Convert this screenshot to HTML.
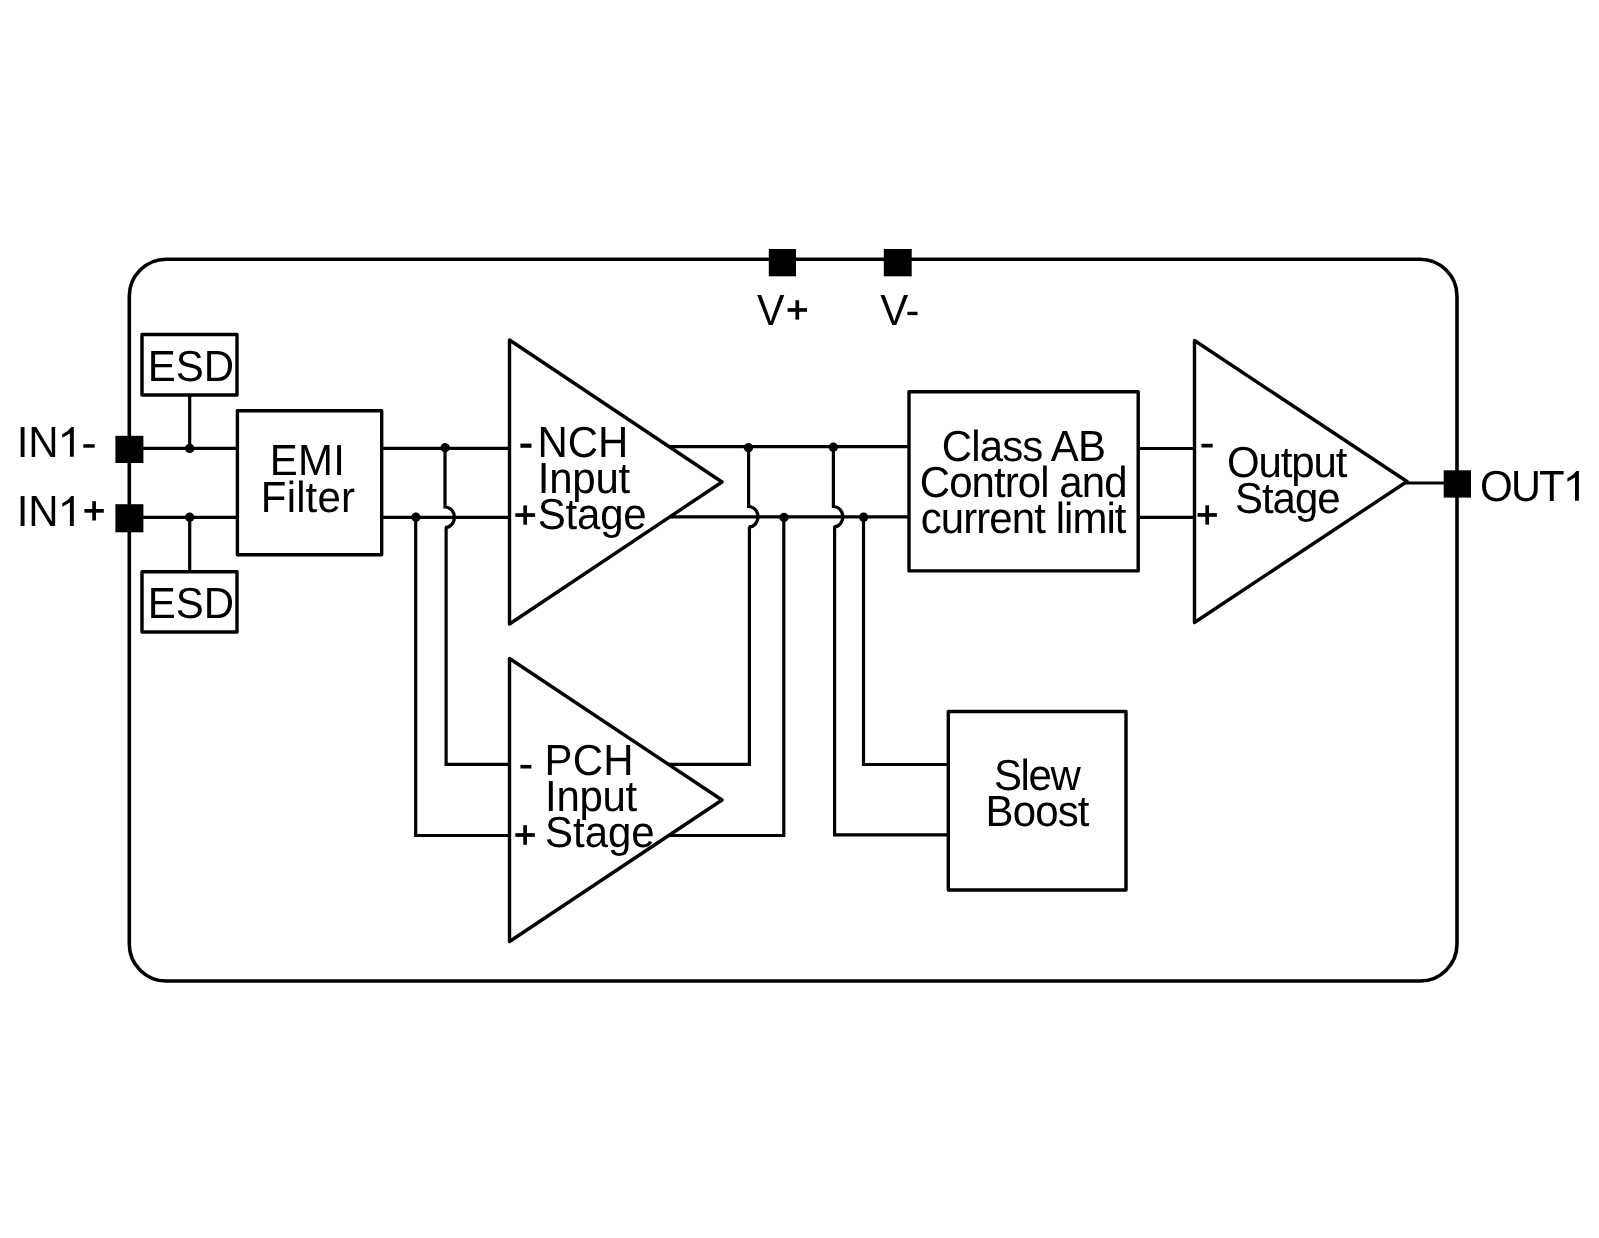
<!DOCTYPE html>
<html><head><meta charset="utf-8"><title>Op-amp block diagram</title>
<style>
html,body{margin:0;padding:0;background:#fff;width:1599px;height:1238px;overflow:hidden}
svg{display:block;will-change:transform}
text{font-family:"Liberation Sans",sans-serif;fill:#000;white-space:pre;text-rendering:geometricPrecision}
</style></head><body>
<svg width="1599" height="1238" viewBox="0 0 1599 1238">
<rect x="0" y="0" width="1599" height="1238" fill="#fff"/>
<rect x="129.3" y="259.2" width="1327.7" height="721.8" rx="37" ry="37" fill="none" stroke="#000" stroke-width="3.6"/>
<rect x="115.4" y="435.8" width="28.00" height="27.20" fill="#000"/>
<rect x="115.4" y="504.2" width="28.00" height="28.10" fill="#000"/>
<rect x="768.8" y="249" width="27.20" height="27.30" fill="#000"/>
<rect x="883.8" y="249" width="27.90" height="27.30" fill="#000"/>
<rect x="1443.7" y="470.3" width="27.30" height="27.30" fill="#000"/>
<rect x="142" y="334.5" width="95.00" height="60.50" fill="none" stroke="#000" stroke-width="3.4" stroke-linejoin="round"/>
<rect x="142" y="571.7" width="95.00" height="60.30" fill="none" stroke="#000" stroke-width="3.4" stroke-linejoin="round"/>
<rect x="237.4" y="410.7" width="144.30" height="144.00" fill="none" stroke="#000" stroke-width="3.4" stroke-linejoin="round"/>
<rect x="909" y="391.7" width="229.20" height="179.20" fill="none" stroke="#000" stroke-width="3.4" stroke-linejoin="round"/>
<rect x="948.3" y="711.5" width="177.70" height="178.50" fill="none" stroke="#000" stroke-width="3.4" stroke-linejoin="round"/>
<path d="M509.5 340 L722 482.0 L509.5 624 Z" fill="none" stroke="#000" stroke-width="3.4" stroke-linejoin="round"/>
<path d="M509.5 658.5 L722 800.0 L509.5 941.5 Z" fill="none" stroke="#000" stroke-width="3.4" stroke-linejoin="round"/>
<path d="M1194.5 340.5 L1407 481.5 L1194.5 622.5 Z" fill="none" stroke="#000" stroke-width="3.4" stroke-linejoin="round"/>
<path d="M129.4 448.4 H237.4 M381.7 448.4 H509.5" fill="none" stroke="#000" stroke-width="3.2" stroke-linejoin="miter"/>
<path d="M129.4 517.3 H237.4 M381.7 517.3 H509.5" fill="none" stroke="#000" stroke-width="3.2" stroke-linejoin="miter"/>
<path d="M189.7 395 V448.4 M189.7 517.3 V571.7" fill="none" stroke="#000" stroke-width="3.2" stroke-linejoin="miter"/>
<path d="M445 448.4 V507.00 A9.4 10.3 0 0 1 445 527.60 M446.1 527.30 V764.4 H509.5" fill="none" stroke="#000" stroke-width="3.2" stroke-linejoin="miter"/>
<path d="M415.7 517.3 V835.5 H509.5" fill="none" stroke="#000" stroke-width="3.2" stroke-linejoin="miter"/>
<path d="M669.2 446.7 H909 M669.9 516.8 H909" fill="none" stroke="#000" stroke-width="3.2" stroke-linejoin="miter"/>
<path d="M748.6 446.7 V506.50 A9.4 10.3 0 0 1 748.6 527.10 M749.4 526.80 V764.4 H668.5" fill="none" stroke="#000" stroke-width="3.2" stroke-linejoin="miter"/>
<path d="M668.7 835.5 H783.8 V516.8" fill="none" stroke="#000" stroke-width="3.2" stroke-linejoin="miter"/>
<path d="M833.4 446.7 V506.50 A9.4 10.3 0 0 1 833.4 527.10 M834.6 526.80 V834.9 H948.3" fill="none" stroke="#000" stroke-width="3.2" stroke-linejoin="miter"/>
<path d="M863.5 516.8 V764.5 H948.3" fill="none" stroke="#000" stroke-width="3.2" stroke-linejoin="miter"/>
<path d="M1138.2 448.5 H1195 M1138.2 517.3 H1195" fill="none" stroke="#000" stroke-width="3.2" stroke-linejoin="miter"/>
<path d="M1406 483 H1457" fill="none" stroke="#000" stroke-width="3.2" stroke-linejoin="miter"/>
<circle cx="189.7" cy="448.4" r="4.7" fill="#000"/>
<circle cx="189.7" cy="517.3" r="4.7" fill="#000"/>
<circle cx="445.1" cy="447.8" r="4.7" fill="#000"/>
<circle cx="415.9" cy="517.3" r="4.7" fill="#000"/>
<circle cx="748.5" cy="447.7" r="4.7" fill="#000"/>
<circle cx="784" cy="517.5" r="4.7" fill="#000"/>
<circle cx="833.3" cy="447.2" r="4.7" fill="#000"/>
<circle cx="863.6" cy="517.3" r="4.7" fill="#000"/>
<text transform="translate(16.82,457.20) scale(0.9650,1)" font-size="43.5" letter-spacing="-0.240">IN</text>
<path d="M73.8 427 V456.8 H69.90 V433.60 L62.30 437.80 V434.30 Q67.80 432.00 71.30 427 Z" fill="#000"/>
<rect x="83.30" y="444.20" width="11.40" height="3.50" fill="#000"/>
<text transform="translate(16.82,526.00) scale(0.9650,1)" font-size="43.5" letter-spacing="-0.240">IN</text>
<path d="M73.8 496 V526 H69.90 V502.60 L62.30 506.80 V503.30 Q67.80 501.00 71.30 496 Z" fill="#000"/>
<rect x="84.40" y="509.00" width="19.40" height="3.7" fill="#000"/><rect x="92.25" y="501.20" width="3.7" height="19.30" fill="#000"/>
<text transform="translate(1479.90,500.70) scale(0.9701,1)" font-size="43.5" letter-spacing="0.000">O</text>
<text transform="translate(1510.99,500.70) scale(0.9519,1)" font-size="43.5" letter-spacing="0.000">U</text>
<text transform="translate(1539.06,500.70) scale(0.9643,1)" font-size="43.5" letter-spacing="0.000">T</text>
<path d="M1578.9 470.9 V500.7 H1575.00 V477.50 L1567.40 481.70 V478.20 Q1572.90 475.90 1576.40 470.9 Z" fill="#000"/>
<text transform="translate(757.09,325.00) scale(0.9475,1)" font-size="43.5" letter-spacing="0.000">V</text>
<rect x="787.60" y="308.10" width="19.40" height="3.7" fill="#000"/><rect x="795.45" y="300.30" width="3.7" height="19.30" fill="#000"/>
<text transform="translate(880.19,325.00) scale(0.9650,1)" font-size="43.5" letter-spacing="-0.280">V-</text>
<text transform="translate(147.84,381.00) scale(0.9650,1)" font-size="43.5" letter-spacing="-0.003">ESD</text>
<text transform="translate(147.84,617.70) scale(0.9650,1)" font-size="43.5" letter-spacing="-0.003">ESD</text>
<text transform="translate(269.74,474.90) scale(0.9650,1)" font-size="43.5" letter-spacing="0.275">EMI</text>
<text transform="translate(260.84,511.80) scale(0.9650,1)" font-size="43.5" letter-spacing="0.166">Filter</text>
<rect x="520.40" y="443.60" width="11.10" height="4.20" fill="#000"/>
<text transform="translate(537.44,457.00) scale(0.9650,1)" font-size="43.5" letter-spacing="0.021">NCH</text>
<text transform="translate(537.72,492.70) scale(0.9650,1)" font-size="43.5" letter-spacing="-0.234">Input</text>
<rect x="515.30" y="513.20" width="19.80" height="3.7" fill="#000"/><rect x="523.35" y="505.40" width="3.7" height="19.30" fill="#000"/>
<text transform="translate(537.81,528.60) scale(0.9650,1)" font-size="43.5" letter-spacing="-0.205">Stage</text>
<text transform="translate(941.80,460.90) scale(0.9650,1)" font-size="43.5" letter-spacing="-0.906">Class AB</text>
<text transform="translate(919.80,496.80) scale(0.9650,1)" font-size="43.5" letter-spacing="-0.963">Control and</text>
<text transform="translate(920.82,532.80) scale(0.9650,1)" font-size="43.5" letter-spacing="-0.969">current limit</text>
<rect x="1201.50" y="443.80" width="11.20" height="3.70" fill="#000"/>
<rect x="1197.50" y="513.10" width="19.40" height="3.7" fill="#000"/><rect x="1205.35" y="505.30" width="3.7" height="19.30" fill="#000"/>
<text transform="translate(1227.01,476.80) scale(0.9650,1)" font-size="43.5" letter-spacing="-1.167">Output</text>
<text transform="translate(1234.91,512.90) scale(0.9650,1)" font-size="43.5" letter-spacing="-1.035">Stage</text>
<rect x="520.40" y="764.90" width="11.00" height="3.60" fill="#000"/>
<text transform="translate(544.44,774.90) scale(0.9650,1)" font-size="43.5" letter-spacing="0.284">PCH</text>
<text transform="translate(545.02,810.70) scale(0.9650,1)" font-size="43.5" letter-spacing="-0.286">Input</text>
<rect x="515.30" y="833.15" width="19.60" height="3.7" fill="#000"/><rect x="523.25" y="825.20" width="3.7" height="19.60" fill="#000"/>
<text transform="translate(545.01,846.90) scale(0.9650,1)" font-size="43.5" letter-spacing="0.002">Stage</text>
<text transform="translate(993.91,789.80) scale(0.9650,1)" font-size="43.5" letter-spacing="-1.417">Slew</text>
<text transform="translate(985.54,825.80) scale(0.9650,1)" font-size="43.5" letter-spacing="-0.876">Boost</text>
</svg>
</body></html>
